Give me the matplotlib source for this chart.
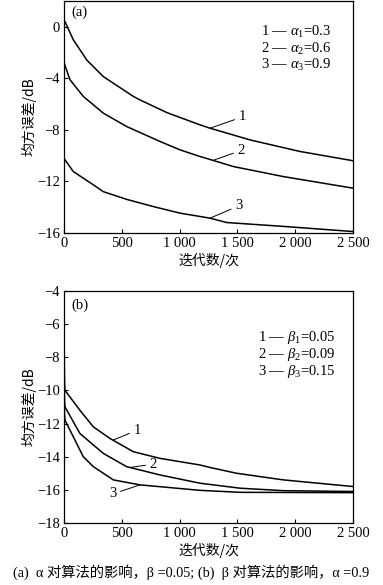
import numpy as np
import matplotlib.pyplot as plt

plt.rcParams['font.family'] = ['Liberation Serif', 'Noto Sans CJK SC']
plt.rcParams['mathtext.fontset'] = 'custom'
plt.rcParams['mathtext.rm'] = 'Liberation Serif'
plt.rcParams['mathtext.it'] = 'Liberation Serif:italic'

# (a) alpha influence
a1_x = [0, 9, 81, 196, 340, 600, 657, 888, 917, 1176, 1263, 1609, 2041, 2500]
a1_y = [0.5, 0.4, -1.0, -2.56, -3.86, -5.4, -5.67, -6.65, -6.75, -7.61, -7.87, -8.78, -9.68, -10.4]
a2_x = [0, 9, 52, 167, 254, 340, 542, 830, 1003, 1176, 1263, 1465, 1897, 2500]
a2_y = [-2.7, -3.0, -4.1, -5.4, -6.05, -6.7, -7.74, -8.9, -9.55, -10.07, -10.3, -10.85, -11.63, -12.53]
a3_x = [0, 9, 81, 254, 340, 542, 773, 1003, 1263, 1407, 1897, 2500]
a3_y = [-10.2, -10.33, -11.24, -12.27, -12.8, -13.4, -13.96, -14.47, -14.86, -15.2, -15.5, -15.9]

# (b) beta influence
b1_x = [0, 5, 9, 138, 254, 398, 600, 830, 1176, 1263, 1493, 1897, 2500]
b1_y = [-6.2, -9.6, -10.0, -11.2, -12.2, -12.9, -13.7, -14.1, -14.5, -14.65, -15.0, -15.4, -15.8]
b2_x = [0, 5, 9, 138, 340, 542, 830, 1176, 1522, 1897, 2500]
b2_y = [-7.7, -10.7, -11.0, -12.6, -13.8, -14.6, -15.1, -15.6, -15.9, -16.05, -16.1]
b3_x = [0, 5, 9, 81, 167, 254, 427, 657, 1176, 1522, 2500]
b3_y = [-9.4, -11.5, -11.8, -12.8, -14.0, -14.6, -15.4, -15.7, -16.03, -16.15, -16.17]

x_ticks = [0, 500, 1000, 1500, 2000, 2500]
x_ticklabels = ['0', '500', '1 000', '1 500', '2 000', '2 500']

fig = plt.figure(figsize=(3.83, 5.85), dpi=100)
ax1 = fig.add_axes([0.167, 0.602, 0.755, 0.396])
ax2 = fig.add_axes([0.167, 0.106, 0.755, 0.3966])

for ax in (ax1, ax2):
    ax.set_xlim(0, 2500)
    ax.set_xticks(x_ticks)
    ax.set_xticklabels(x_ticklabels)
    ax.tick_params(direction='in', length=3, width=0.8, labelsize=10.5, pad=3)
    for s in ax.spines.values():
        s.set_linewidth(0.9)
    ax.set_xlabel('迭代数/次', family=['Noto Sans CJK SC'], fontsize=10, labelpad=2)
    ax.set_ylabel('均方误差/dB', family=['Noto Sans CJK SC', 'Liberation Serif'], fontsize=10, labelpad=0)

lw = 1.1
arrow = dict(arrowstyle='-', lw=0.7, shrinkA=1, shrinkB=0)

ax1.plot(a1_x, a1_y, color='black', lw=lw)
ax1.plot(a2_x, a2_y, color='black', lw=lw)
ax1.plot(a3_x, a3_y, color='black', lw=lw)
ax1.set_ylim(-16, 2)
ax1.set_yticks([0, -4, -8, -12, -16])
ax1.text(60, 1.1, '(a)', fontsize=10.5, va='center')
ax1.text(1700, 0.2, '1 — $\\alpha_1$=0.3\n2 — $\\alpha_2$=0.6\n3 — $\\alpha_3$=0.9',
         fontsize=10.5, va='top', linespacing=1.0)
ax1.annotate('1', xy=(1263, -7.87), xytext=(1510, -7.0), fontsize=10.5, va='center',
             arrowprops=arrow)
ax1.annotate('2', xy=(1290, -10.37), xytext=(1500, -9.6), fontsize=10.5, va='center',
             arrowprops=arrow)
ax1.annotate('3', xy=(1263, -14.86), xytext=(1480, -13.9), fontsize=10.5, va='center',
             arrowprops=arrow)

ax2.plot(b1_x, b1_y, color='black', lw=lw)
ax2.plot(b2_x, b2_y, color='black', lw=lw)
ax2.plot(b3_x, b3_y, color='black', lw=lw)
ax2.set_ylim(-18, -4)
ax2.set_yticks([-4, -6, -8, -10, -12, -14, -16, -18])
ax2.text(60, -4.85, '(b)', fontsize=10.5, va='center')
ax2.text(1680, -6.3, '1 — $\\beta_1$=0.05\n2 — $\\beta_2$=0.09\n3 — $\\beta_3$=0.15',
         fontsize=10.5, va='top', linespacing=1.0)
ax2.annotate('1', xy=(425, -13.0), xytext=(600, -12.4), fontsize=10.5, va='center',
             arrowprops=arrow)
ax2.annotate('2', xy=(570, -14.65), xytext=(740, -14.45), fontsize=10.5, va='center',
             arrowprops=arrow)
ax2.annotate('3', xy=(657, -15.7), xytext=(390, -16.25), fontsize=10.5, va='center',
             arrowprops=arrow)

fig.text(0.5, 0.021, '(a)  α 对算法的影响，β =0.05; (b)  β 对算法的影响，α =0.9',
         ha='center', va='center', fontsize=10.3,
         family=['Liberation Serif', 'Noto Sans CJK SC'])

fig.savefig('out.png', dpi=100)
